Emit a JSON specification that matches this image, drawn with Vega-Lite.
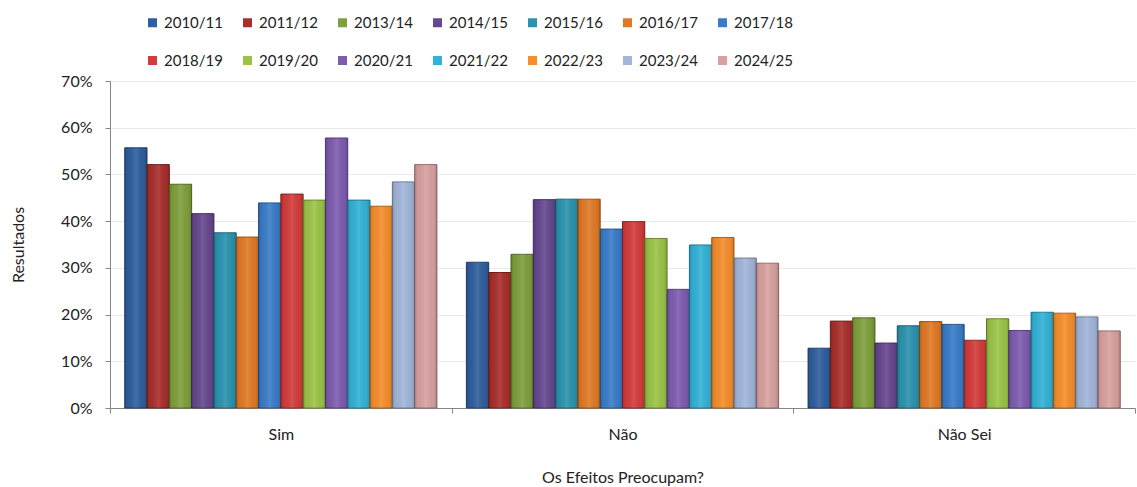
{
  "$schema": "https://vega.github.io/schema/vega-lite/v6.json",
  "autosize": "none",
  "padding": {"left": 110, "top": 81, "right": 2, "bottom": 79},
  "width": 1025,
  "height": 327,
  "background": "#ffffff",
  "config": {
    "font": "Lato",
    "view": {"stroke": null}
  },
  "data": {
    "values": [
      {"resposta": "Sim", "ano": "2010/11", "valor": 55.7},
      {"resposta": "Sim", "ano": "2011/12", "valor": 52.1},
      {"resposta": "Sim", "ano": "2013/14", "valor": 47.9},
      {"resposta": "Sim", "ano": "2014/15", "valor": 41.6},
      {"resposta": "Sim", "ano": "2015/16", "valor": 37.5},
      {"resposta": "Sim", "ano": "2016/17", "valor": 36.6},
      {"resposta": "Sim", "ano": "2017/18", "valor": 43.9},
      {"resposta": "Sim", "ano": "2018/19", "valor": 45.8},
      {"resposta": "Sim", "ano": "2019/20", "valor": 44.5},
      {"resposta": "Sim", "ano": "2020/21", "valor": 57.8},
      {"resposta": "Sim", "ano": "2021/22", "valor": 44.5},
      {"resposta": "Sim", "ano": "2022/23", "valor": 43.2},
      {"resposta": "Sim", "ano": "2023/24", "valor": 48.4},
      {"resposta": "Sim", "ano": "2024/25", "valor": 52.1},
      {"resposta": "Não", "ano": "2010/11", "valor": 31.2},
      {"resposta": "Não", "ano": "2011/12", "valor": 29.0},
      {"resposta": "Não", "ano": "2013/14", "valor": 32.9},
      {"resposta": "Não", "ano": "2014/15", "valor": 44.6},
      {"resposta": "Não", "ano": "2015/16", "valor": 44.7},
      {"resposta": "Não", "ano": "2016/17", "valor": 44.7},
      {"resposta": "Não", "ano": "2017/18", "valor": 38.3},
      {"resposta": "Não", "ano": "2018/19", "valor": 39.9},
      {"resposta": "Não", "ano": "2019/20", "valor": 36.3},
      {"resposta": "Não", "ano": "2020/21", "valor": 25.4},
      {"resposta": "Não", "ano": "2021/22", "valor": 34.9},
      {"resposta": "Não", "ano": "2022/23", "valor": 36.5},
      {"resposta": "Não", "ano": "2023/24", "valor": 32.1},
      {"resposta": "Não", "ano": "2024/25", "valor": 31.0},
      {"resposta": "Não Sei", "ano": "2010/11", "valor": 12.8},
      {"resposta": "Não Sei", "ano": "2011/12", "valor": 18.6},
      {"resposta": "Não Sei", "ano": "2013/14", "valor": 19.3},
      {"resposta": "Não Sei", "ano": "2014/15", "valor": 13.9},
      {"resposta": "Não Sei", "ano": "2015/16", "valor": 17.6},
      {"resposta": "Não Sei", "ano": "2016/17", "valor": 18.5},
      {"resposta": "Não Sei", "ano": "2017/18", "valor": 17.9},
      {"resposta": "Não Sei", "ano": "2018/19", "valor": 14.5},
      {"resposta": "Não Sei", "ano": "2019/20", "valor": 19.1},
      {"resposta": "Não Sei", "ano": "2020/21", "valor": 16.6},
      {"resposta": "Não Sei", "ano": "2021/22", "valor": 20.5},
      {"resposta": "Não Sei", "ano": "2022/23", "valor": 20.3},
      {"resposta": "Não Sei", "ano": "2023/24", "valor": 19.5},
      {"resposta": "Não Sei", "ano": "2024/25", "valor": 16.5}
    ]
  },
  "encoding": {
    "x": {
      "field": "resposta",
      "type": "nominal",
      "sort": ["Sim", "Não", "Não Sei"],
      "scale": {"paddingInner": 0, "paddingOuter": 0},
      "axis": {
        "title": "Os Efeitos Preocupam?",
        "labelAngle": 0,
        "labelFontSize": 16,
        "labelColor": "#222222",
        "labelPadding": 13,
        "tickBand": "extent",
        "tickSize": 5,
        "tickColor": "#868686",
        "domainColor": "#868686",
        "titleFontSize": 16,
        "titleFontWeight": "normal",
        "titleColor": "#222222",
        "titleY": 69,
        "titleBaseline": "middle"
      }
    },
    "xOffset": {
      "field": "ano",
      "type": "nominal",
      "scale": {"paddingInner": 0, "paddingOuter": 0.66}
    },
    "y": {
      "field": "valor",
      "type": "quantitative",
      "scale": {"domain": [0, 70]},
      "axis": {
        "title": "Resultados",
        "values": [0, 10, 20, 30, 40, 50, 60, 70],
        "labelExpr": "datum.value + '%'",
        "labelFontSize": 16,
        "labelColor": "#222222",
        "labelPadding": 13,
        "tickSize": 5,
        "tickColor": "#868686",
        "domainColor": "#868686",
        "gridColor": "#e9e9e9",
        "titleFontSize": 16,
        "titleFontWeight": "normal",
        "titleColor": "#222222",
        "titleX": -92,
        "titleY": 163.5,
        "titleAngle": 270,
        "titleAlign": "center",
        "titleBaseline": "middle"
      }
    }
  },
  "layer": [
    {
      "mark": {"type": "bar", "strokeWidth": 1},
      "encoding": {
        "color": {
          "field": "ano",
          "type": "nominal",
          "scale": {
            "domain": ["2010/11", "2011/12", "2013/14", "2014/15", "2015/16", "2016/17", "2017/18", "2018/19", "2019/20", "2020/21", "2021/22", "2022/23", "2023/24", "2024/25"],
            "range": ["#2f5f9e", "#a92f2c", "#7fa03c", "#66488f", "#2b93ae", "#e07a25", "#3a7cc9", "#d33c3b", "#9bc447", "#7e5cb0", "#33b2d7", "#f68e2c", "#a2b6da", "#d9a1a1"]
          },
          "legend": {
            "title": null,
            "orient": "none",
            "legendX": 35,
            "legendY": -66,
            "direction": "horizontal",
            "columns": 7,
            "gridAlign": "all",
            "columnPadding": 17,
            "rowPadding": 22,
            "symbolType": "square",
            "symbolSize": 81,
            "symbolStrokeWidth": 0,
            "labelFontSize": 15,
            "labelColor": "#222222",
            "labelOffset": 4
          }
        },
        "stroke": {
          "field": "ano",
          "type": "nominal",
          "scale": {
            "domain": ["2010/11", "2011/12", "2013/14", "2014/15", "2015/16", "2016/17", "2017/18", "2018/19", "2019/20", "2020/21", "2021/22", "2022/23", "2023/24", "2024/25"],
            "range": ["#1f416d", "#6f1e1c", "#556c27", "#433060", "#1c6274", "#9a5318", "#275489", "#8f2726", "#6a862e", "#553d78", "#217a93", "#a9601c", "#6f7d96", "#946d6d"]
          },
          "legend": null
        }
      }
    },
    {
      "mark": {
        "type": "bar",
        "strokeWidth": 0,
        "fill": {
          "gradient": "linear",
          "x1": 0, "y1": 0, "x2": 1, "y2": 0,
          "stops": [
            {"offset": 0, "color": "rgba(0,0,0,0.18)"},
            {"offset": 0.15, "color": "rgba(0,0,0,0.04)"},
            {"offset": 0.5, "color": "rgba(255,255,255,0.1)"},
            {"offset": 0.85, "color": "rgba(0,0,0,0.04)"},
            {"offset": 1, "color": "rgba(0,0,0,0.18)"}
          ]
        }
      }
    }
  ]
}
